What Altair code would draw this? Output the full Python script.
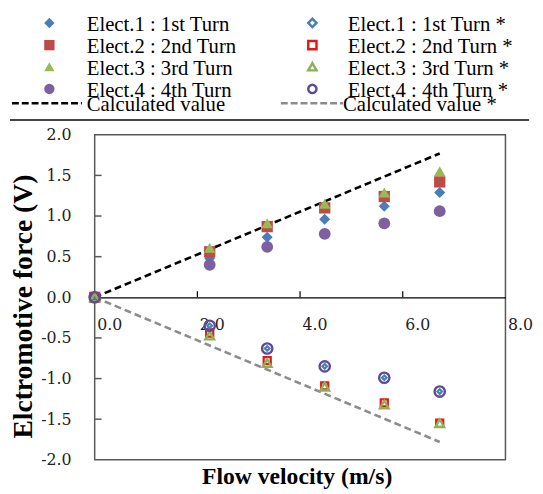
import altair as alt
import pandas as pd

# ---------------- data ----------------
x_vals = [0.0, 2.24, 3.36, 4.48, 5.64, 6.72]
series_filled = ["Elect.1 : 1st Turn", "Elect.2 : 2nd Turn", "Elect.3 : 3rd Turn", "Elect.4 : 4th Turn"]
series_open = ["Elect.1 : 1st Turn *", "Elect.2 : 2nd Turn *", "Elect.3 : 3rd Turn *", "Elect.4 : 4th Turn *"]
calc_names = ["Calculated value", "Calculated value *"]

e1 = [0.0, 0.48, 0.74, 0.96, 1.12, 1.29]
e2 = [0.0, 0.56, 0.87, 1.10, 1.24, 1.42]
e3 = [0.0, 0.61, 0.91, 1.15, 1.29, 1.55]
e4 = [0.0, 0.40, 0.62, 0.78, 0.91, 1.06]
e1s = [0.0, -0.35, -0.63, -0.85, -0.99, -1.16]
e2s = [0.0, -0.44, -0.78, -1.09, -1.30, -1.55]
e3s = [0.0, -0.47, -0.81, -1.10, -1.32, -1.55]
e4s = [0.0, -0.35, -0.63, -0.85, -0.99, -1.16]

calc_x = [0.0, 6.72]
calc_pos = [0.0, 1.77]
calc_neg = [0.0, -1.78]

x_ticks = [0, 2, 4, 6, 8]
y_ticks = [-2.0, -1.5, -1.0, -0.5, 0.0, 0.5, 1.0, 1.5, 2.0]
y_minor_marks = [-1.5, -1.0, -0.5, 0.5, 1.0, 1.5]
x_minor_marks = [2, 4, 6]

# ---------------- tables ----------------
filled_df = pd.DataFrame(
    [{"series": s, "x": xv, "y": yv}
     for s, ys in zip(series_filled, [e1, e2, e3, e4])
     for xv, yv in zip(x_vals, ys)]
)
open_df = pd.DataFrame(
    [{"series": s, "x": xv, "y": yv}
     for s, ys in zip(series_open, [e1s, e2s, e3s, e4s])
     for xv, yv in zip(x_vals, ys)]
)
calc_df = pd.DataFrame(
    [{"series": s, "x": xv, "y": yv}
     for s, ys in zip(calc_names, [calc_pos, calc_neg])
     for xv, yv in zip(calc_x, ys)]
)

# ---------------- styles ----------------
XS = alt.Scale(domain=[0, 8], nice=False, zero=False)
YS = alt.Scale(domain=[-2, 2], nice=False, zero=False)
SERIF = "Liberation Serif"
LEGFONT = "'Times New Roman', 'Liberation Serif', serif"
TICKFONT = "'DejaVu Serif', serif"

shape_f = alt.Scale(domain=series_filled, range=["diamond", "square", "triangle-up", "circle"])
color_f = alt.Scale(domain=series_filled, range=["#4A7EBB", "#BE4B48", "#98B954", "#7D60A0"])
size_f = alt.Scale(domain=series_filled, range=[125, 144, 170, 160])

shape_o = alt.Scale(domain=series_open, range=["diamond", "square", "triangle-up", "circle"])
color_o = alt.Scale(domain=series_open, range=["#4A7EBB", "#DD1C1A", "#8DB255", "#5E4B95"])
size_o = alt.Scale(domain=series_open, range=[22, 110, 60, 95])
sw_o = alt.Scale(domain=series_open, range=[2.2, 2.4, 2.0, 3.0])

color_c = alt.Scale(domain=calc_names, range=["#000000", "#8C8C8C"])

x_axis = alt.Axis(
    values=x_ticks, labelExpr="format(datum.value, '.1f')", offset=-165,
    ticks=False, tickSize=0, domain=True, domainColor="#000000", domainWidth=1.2,
    labelAlign="left", labelBaseline="top", labelPadding=20, labelOffset=2,
    labelFont=TICKFONT, labelFontSize=16, labelColor="#222222",
    labelFlush=False, labelOverlap=False, grid=False,
    title="Flow velocity (m/s)", titleFont=SERIF, titleFontWeight="bold",
    titleFontSize=24, titleColor="#000000", titleX=205, titleY=182,
    titleBaseline="middle", titleAlign="center",
)
y_axis = alt.Axis(
    values=y_ticks, labelExpr="replace(format(datum.value, '.1f'), '\u2212', '-')",
    ticks=False, tickSize=0, domain=False, labelPadding=24,
    labelFont=TICKFONT, labelFontSize=16, labelColor="#222222",
    labelFlush=False, labelOverlap=False, grid=False,
    title="Elctromotive force (V)", titleFont=SERIF, titleFontWeight="bold",
    titleFontSize=28, titleColor="#000000", titleX=-72, titleY=174,
    titleAngle=270, titleBaseline="middle", titleAlign="center",
)

# ---------------- plot layers ----------------
lines = alt.Chart(calc_df).mark_line(strokeDash=[7, 4], strokeWidth=2.6).encode(
    x=alt.X("x:Q", scale=XS, axis=x_axis),
    y=alt.Y("y:Q", scale=YS, axis=y_axis),
    color=alt.Color("series:N", scale=color_c, legend=None),
    detail="series:N",
)

yticks_layer = alt.Chart(pd.DataFrame({"v": y_minor_marks})).mark_rule(
    color="#595959", strokeWidth=1.5
).encode(
    y=alt.Y("v:Q", scale=YS, axis=None),
    x=alt.datum(0, scale=XS, axis=None),
    x2=alt.datum(0.135),
)
xticks_layer = alt.Chart(pd.DataFrame({"v": x_minor_marks})).mark_rule(
    color="#000000", strokeWidth=1.2
).encode(
    x=alt.X("v:Q", scale=XS, axis=None),
    y=alt.datum(0, scale=YS, axis=None),
    y2=alt.datum(0.075),
)

filled = alt.Chart(filled_df).mark_point(filled=True, opacity=1).encode(
    x=alt.X("x:Q", scale=XS, axis=None),
    y=alt.Y("y:Q", scale=YS, axis=None),
    shape=alt.Shape("series:N", scale=shape_f, legend=None),
    color=alt.Color("series:N", scale=color_f, legend=None),
    size=alt.Size("series:O", scale=size_f, legend=None),
)
opened = alt.Chart(open_df).mark_point(filled=False, opacity=1).encode(
    x=alt.X("x:Q", scale=XS, axis=None),
    y=alt.Y("y:Q", scale=YS, axis=None),
    shape=alt.Shape("series:N", scale=shape_o, legend=None),
    color=alt.Color("series:N", scale=color_o, legend=None),
    size=alt.Size("series:O", scale=size_o, legend=None),
    strokeWidth=alt.StrokeWidth("series:O", scale=sw_o, legend=None),
)

# ---------------- legend (layout positions relative to plot origin) ----------------
SYM_X = [-46, 221]
TXT_X = [-8, 257]
SYM_Y = [-113.5, -91, -69, -46.5]
TXT_Y = [-111.5, -89, -67, -44.5]
CALC_TXT_Y = -30
DASH_Y = -32
DASH_X = [(-84, -13), (189, 252)]

leg_f = pd.DataFrame({"series": series_filled, "lx": SYM_X[0], "ly": SYM_Y})
leg_o = pd.DataFrame({"series": series_open, "lx": SYM_X[1], "ly": SYM_Y})
leg_txt = pd.DataFrame(
    [{"label": s, "tx": TXT_X[0], "ty": TXT_Y[i]} for i, s in enumerate(series_filled)]
    + [{"label": s, "tx": TXT_X[1], "ty": TXT_Y[i]} for i, s in enumerate(series_open)]
    + [{"label": calc_names[0], "tx": TXT_X[0], "ty": CALC_TXT_Y},
       {"label": calc_names[1], "tx": TXT_X[1] - 5, "ty": CALC_TXT_Y}]
)
leg_dash = pd.DataFrame(
    [{"series": calc_names[i], "x0": DASH_X[i][0], "x1": DASH_X[i][1], "yy": DASH_Y} for i in range(2)]
)

legend_f = alt.Chart(leg_f).mark_point(filled=True, opacity=1, size=110).encode(
    x=alt.X("lx:Q", scale=None, axis=None),
    y=alt.Y("ly:Q", scale=None, axis=None),
    shape=alt.Shape("series:N", scale=shape_f, legend=None),
    color=alt.Color("series:N", scale=color_f, legend=None),
)
legend_o = alt.Chart(leg_o).mark_point(filled=False, opacity=1, size=70, strokeWidth=2.5).encode(
    x=alt.X("lx:Q", scale=None, axis=None),
    y=alt.Y("ly:Q", scale=None, axis=None),
    shape=alt.Shape("series:N", scale=shape_o, legend=None),
    color=alt.Color("series:N", scale=color_o, legend=None),
)
legend_text = alt.Chart(leg_txt).mark_text(
    align="left", baseline="middle", font=LEGFONT, fontSize=21, color="#000000"
).encode(
    x=alt.X("tx:Q", scale=None, axis=None),
    y=alt.Y("ty:Q", scale=None, axis=None),
    text="label:N",
)
legend_dash = alt.Chart(leg_dash).mark_rule(strokeDash=[7, 3], strokeWidth=2.6).encode(
    x=alt.X("x0:Q", scale=None, axis=None),
    x2="x1:Q",
    y=alt.Y("yy:Q", scale=None, axis=None),
    color=alt.Color("series:N", scale=color_c, legend=None),
)
separator = alt.Chart(pd.DataFrame({"k": [0]})).mark_rule(color="#444444", strokeWidth=2).encode(
    x=alt.value(-86), x2=alt.value(441), y=alt.value(-15)
)

chart = alt.layer(
    lines, yticks_layer, xticks_layer, filled, opened,
    legend_f, legend_o, legend_text, legend_dash, separator,
).resolve_scale(
    x="independent", y="independent", color="independent",
    shape="independent", size="independent", strokeWidth="independent",
).properties(
    width=417, height=330,
    autosize=alt.AutoSizeParams(type="none"),
    padding={"left": 88, "top": 125, "right": 30, "bottom": 31},
    background="white",
).configure_view(stroke="#595959", strokeWidth=1.5)

chart.save("out.html", embed_options={"renderer": "svg", "actions": False})
